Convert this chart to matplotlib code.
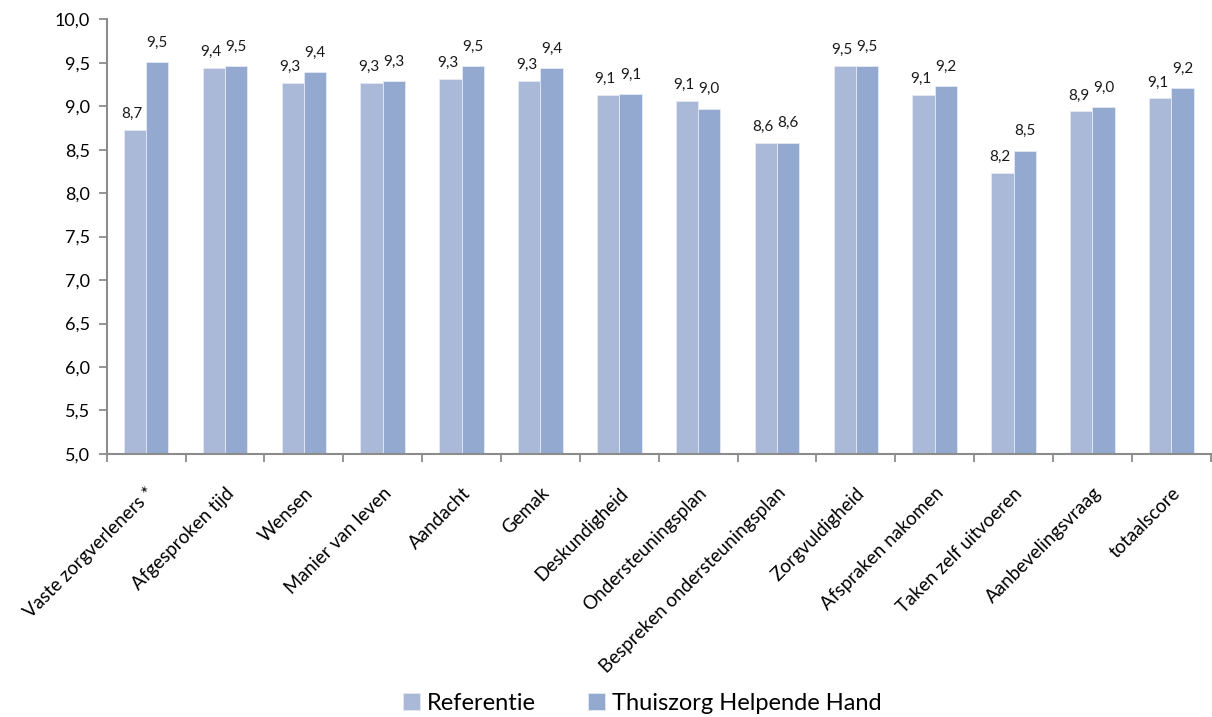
import matplotlib
matplotlib.use("Agg")
import matplotlib.pyplot as plt
import numpy as np

plt.rcParams['font.family'] = ['Lato', 'DejaVu Sans']

categories = ['Vaste zorgverleners *', 'Afgesproken tijd', 'Wensen', 'Manier van leven',
              'Aandacht', 'Gemak', 'Deskundigheid', 'Ondersteuningsplan',
              'Bespreken ondersteuningsplan', 'Zorgvuldigheid', 'Afspraken nakomen',
              'Taken zelf uitvoeren', 'Aanbevelingsvraag', 'totaalscore']
referentie = [8.73, 9.44, 9.27, 9.27, 9.31, 9.29, 9.13, 9.06, 8.58, 9.46, 9.13, 8.23, 8.94, 9.09]
thuiszorg = [9.51, 9.46, 9.39, 9.29, 9.46, 9.44, 9.14, 8.97, 8.58, 9.46, 9.23, 8.49, 8.99, 9.21]
series_names = ['Referentie', 'Thuiszorg Helpende Hand']
colors = ['#AAB9D8', '#94A9D0']
yticks = np.arange(5.0, 10.01, 0.5)


def fmt(v):
    return f"{v:.1f}".replace('.', ',')


fig = plt.figure(figsize=(12.12, 7.17), dpi=100)
ax = fig.add_axes([0.088, 0.367, 0.911, 0.606])

x = np.arange(len(categories))
w = 0.283
for k, (vals, name) in enumerate(zip([referentie, thuiszorg], series_names)):
    pos = x + (k - 0.5) * w
    ax.bar(pos, np.array(vals) - 5.0, bottom=5.0, width=w, color=colors[k],
           edgecolor='#E4E9F3', linewidth=0.6, label=name, zorder=2)
    for p, v in zip(pos, vals):
        ax.annotate(fmt(v), (p, v), xytext=(-2 if k == 0 else 0, 6.5 if k == 0 else 9),
                    textcoords='offset points', ha='center', va='bottom',
                    fontsize=11, color='#1a1a1a')

ax.set_xlim(-0.5, len(categories) - 0.5)
ax.set_ylim(5.0, 10.0)
ax.set_yticks(yticks)
ax.set_yticklabels([fmt(t) for t in yticks], fontsize=13)

ax.set_xticks(np.arange(-0.5, len(categories), 1.0))
ax.set_xticklabels([])
ax.set_xticks(x, minor=True)
ax.set_xticklabels(categories, minor=True, rotation=45, ha='right', rotation_mode='anchor',
                   fontsize=13.5)
ax.tick_params(axis='x', which='minor', length=0, pad=22)
ax.tick_params(axis='x', which='major', length=6, width=1.3, color='#8C8C8C')
ax.tick_params(axis='y', length=6, width=1.3, color='#8C8C8C', pad=6)

for s in ['top', 'right']:
    ax.spines[s].set_visible(False)
for s in ['left', 'bottom']:
    ax.spines[s].set_color('#8C8C8C')
    ax.spines[s].set_linewidth(1.5)

fig.legend(loc='lower center', bbox_to_anchor=(0.53, -0.025), ncol=2, frameon=False,
           fontsize=17, handlelength=0.7, handleheight=0.7, handletextpad=0.3, columnspacing=2.2)

fig.savefig('out.png', dpi=100)
